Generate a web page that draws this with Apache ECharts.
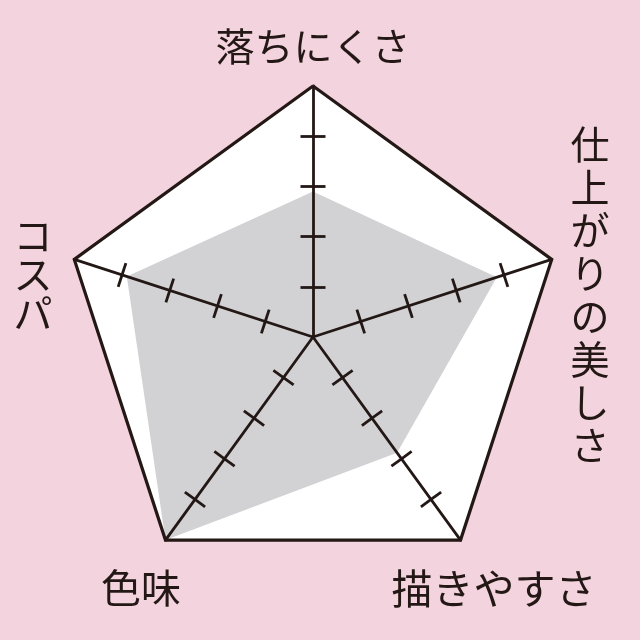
<!DOCTYPE html>
<html>
<head>
    <meta charset="utf-8">
    <title>レーダーチャート</title>
    <script src="https://cdn.jsdelivr.net/npm/echarts@6/dist/echarts.min.js"></script>
    <style>
        html, body { margin: 0; padding: 0; background: #f3d3de; }
        #chart1 { width: 640px; height: 640px; }
    </style>
</head>
<body>
<div id="chart1"></div>
<script type="text/javascript">
    // 軸の順番は上から反時計回り（ECharts の並び順）
    var indicatorNames = ['落ちにくさ', 'コスパ', '色味', '描きやすさ', '仕上がりの美しさ'];
    var scoreValues = [2.9, 3.9, 5, 2.85, 3.85];
    var scoreMax = 5;
    var tickValues = [1, 2, 3, 4];

    var ink = '#231815';
    var cx = 313, cy = 337, R = 251;

    function indicators(min, max) {
        return indicatorNames.map(function (name) {
            return { name: name, min: min, max: max };
        });
    }

    var baseRadar = {
        center: [cx, cy],
        radius: R,
        startAngle: 90,
        shape: 'polygon',
        splitNumber: 1,
        indicator: indicators(0, scoreMax),
        axisName: { show: false },
        axisLine: { show: false },
        axisTick: { show: false },
        splitLine: { show: false },
        splitArea: { show: false }
    };

    function radar(extra) {
        return Object.assign({}, baseRadar, extra);
    }

    // 目盛り（1〜4）だけを描く重ねレーダー
    // 片側にしか出ないので、180°回して半径を負にしたもう一枚で反対側を描く
    var tickMin = tickValues[0], tickMax = tickValues[tickValues.length - 1];
    function tickRadar(flip) {
        var s = flip ? -1 : 1;
        return radar({
            z: 4,
            startAngle: flip ? 270 : 90,
            radius: [s * R * tickMin / scoreMax, s * R * tickMax / scoreMax],
            splitNumber: tickValues.length - 1,
            indicator: indicators(tickMin, tickMax),
            axisTick: { show: true, length: 12.5, lineStyle: { color: ink, width: 2.8 } }
        });
    }

    function vertical(s) { return s.split('').join('\n'); }

    var labelFont = '"Noto Sans CJK JP", sans-serif';
    function label(text, x, y, size, lh) {
        return {
            type: 'text', x: x, y: y, silent: true,
            style: {
                text: text, fill: ink, align: 'center', verticalAlign: 'middle',
                font: size + 'px ' + labelFont, lineHeight: lh || size
            }
        };
    }

    var myChart1 = echarts.init(document.getElementById('chart1'));
    myChart1.setOption({
        backgroundColor: '#f3d3de',
        animation: false,
        radar: [
            // 白い五角形
            radar({ z: 0, splitArea: { show: true, areaStyle: { color: ['#ffffff'], opacity: 1 } } }),
            // 外枠と軸線
            radar({
                z: 3,
                axisLine: { show: true, lineStyle: { color: ink, width: 2.8 } },
                splitLine: { show: true, lineStyle: { color: ink, width: 3.2 } }
            }),
            tickRadar(false),
            tickRadar(true)
        ],
        series: [{
            type: 'radar',
            radarIndex: 0,
            z: 1,
            silent: true,
            symbol: 'none',
            lineStyle: { width: 0 },
            areaStyle: { color: '#d2d2d4', opacity: 1 },
            data: [{ value: scoreValues }]
        }],
        graphic: [
            label(indicatorNames[0], 313, 46, 39),
            label(vertical(indicatorNames[1]), 33, 274, 39, 39),
            label(indicatorNames[2], 141, 588, 40),
            label(indicatorNames[3], 494, 588, 41),
            label(vertical(indicatorNames[4]), 590, 295, 39, 43)
        ]
    });
</script>
</body>
</html>
